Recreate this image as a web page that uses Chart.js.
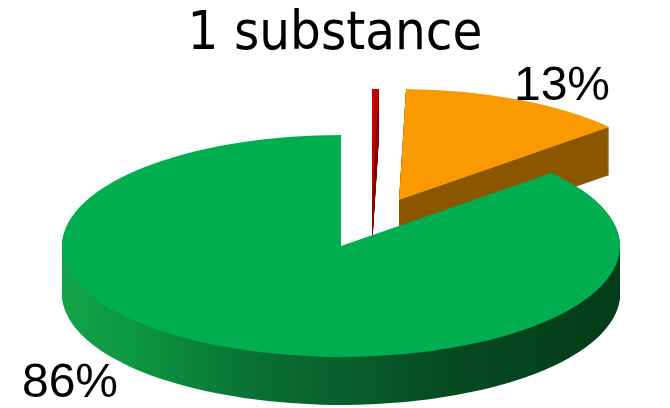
<!DOCTYPE html>
<html>
<head>
<meta charset="utf-8">
<script src="https://cdn.jsdelivr.net/npm/chart.js@4.4.1/dist/chart.umd.min.js"></script>
<style>
  html, body { margin: 0; padding: 0; background: #fff; }
</style>
</head>
<body>
<canvas id="pie" width="670" height="408"></canvas>
<script>
// data
const categories = ["Autre", "Orange", "Vert"];
const values = [0.4, 13.2, 86.4];
const titleText = "1 substance";

// colours: top face and side face of every slice
const topColors = ["#c40000", "#fa9a00", "#00ae4f"];
const sideColors = ["#8a0000", "#8c5700", null]; // green side uses a gradient

// 3D look (screen px)
const CX = 341, CY = 246, RX = 279, RY = 111, DEPTH = 48;
const EXPLODE = [[31, -46], [58, -46], [0, 0]];
const LABEL_POS = [null, [562, 100], [70, 397]];

/* =======================
   3D PIE PLUGIN
======================= */
const pie3d = {
  id: "pie3d",
  beforeDatasetsDraw(chart) {
    const ctx = chart.ctx;
    const arcs = chart.getDatasetMeta(0).data;

    // farthest slice first
    const order = arcs.map((a, i) => i).sort((a, b) => EXPLODE[a][1] - EXPLODE[b][1]);

    order.forEach(i => {
      const arc = arcs[i];
      const { x, y, startAngle, endAngle, outerRadius } = arc;
      const sx = RX / outerRadius, sy = RY / outerRadius;

      const wedge = (dy) => {
        ctx.save();
        ctx.translate(CX + EXPLODE[i][0], CY + EXPLODE[i][1] + dy);
        ctx.scale(sx, sy);
        ctx.translate(-x, -y);
        ctx.beginPath();
        ctx.moveTo(x, y);
        ctx.arc(x, y, outerRadius, startAngle, endAngle);
        ctx.closePath();
        let fill = sideColors[i];
        if (dy === 0) {
          fill = topColors[i];
        } else if (!fill) {
          const g = ctx.createLinearGradient(x - outerRadius, 0, x + outerRadius, 0);
          g.addColorStop(0, "#14a34a");
          g.addColorStop(0.15, "#0a9440");
          g.addColorStop(0.34, "#0a7034");
          g.addColorStop(0.7, "#064a20");
          g.addColorStop(1, "#033c18");
          fill = g;
        }
        ctx.fillStyle = fill;
        ctx.fill();
        ctx.restore();
      };

      for (let d = DEPTH; d >= 1; d--) wedge(d);
      wedge(0);
    });
    return false;
  },
  afterDraw(chart) {
    const ctx = chart.ctx;
    const total = values.reduce((s, v) => s + v, 0);
    ctx.save();
    ctx.fillStyle = "#000";
    ctx.font = '48px "Liberation Sans", Arial, sans-serif';
    ctx.textAlign = "center";
    ctx.textBaseline = "alphabetic";
    values.forEach((v, i) => {
      if (!LABEL_POS[i]) return;
      ctx.fillText(Math.round(v / total * 100) + "%", LABEL_POS[i][0], LABEL_POS[i][1]);
    });
    ctx.restore();
  }
};

new Chart(document.getElementById("pie"), {
  type: "pie",
  data: {
    labels: categories,
    datasets: [{
      data: values,
      backgroundColor: topColors,
      borderWidth: 0
    }]
  },
  options: {
    responsive: false,
    animation: false,
    layout: { padding: 10 },
    plugins: {
      legend: { display: false },
      tooltip: { enabled: false },
      title: {
        display: true,
        text: titleText,
        color: "#000",
        font: { family: '"DejaVu Sans Condensed", "DejaVu Sans", sans-serif', size: 54, weight: "normal" },
        padding: { top: -7, bottom: 0 }
      }
    }
  },
  plugins: [pie3d]
});
</script>
</body>
</html>
